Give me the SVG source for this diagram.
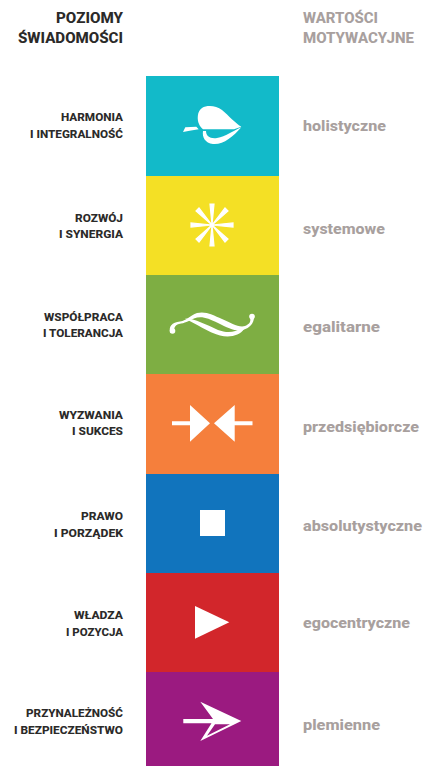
<svg xmlns="http://www.w3.org/2000/svg" width="425" height="766" viewBox="0 0 425 766">
<style>
text{font-family:"Roboto","Liberation Sans",sans-serif;font-weight:800}
.h{font-size:15.5px}
.hl{fill:#2b2a29;text-anchor:end}
.hr{fill:#a8a09e}
.l{font-size:11.5px;fill:#2b2a29;text-anchor:end}
.r{font-size:15px;fill:#a8a09e}
.i{fill:#fff}
</style>
<rect width="425" height="766" fill="#fff"/>
<g id="headers">
<text class="h hl" x="123" y="23" textLength="67" lengthAdjust="spacingAndGlyphs">POZIOMY</text>
<text class="h hl" x="123" y="43" textLength="105" lengthAdjust="spacingAndGlyphs">ŚWIADOMOŚCI</text>
<text class="h hr" x="303" y="23" textLength="75" lengthAdjust="spacingAndGlyphs">WARTOŚCI</text>
<text class="h hr" x="303" y="43" textLength="111" lengthAdjust="spacingAndGlyphs">MOTYWACYJNE</text>
</g>
<g id="level-1">
<rect x="146" y="76" width="133" height="100" fill="#12bac9"/>
<path class="i" d="M241.300 126.700C235 123 229 116 222 110C216 105.500 207 105 202 108C197 111 197 120 199 124C200 126.500 201.500 128 203 129.300L234 129.300Z"/>
<path class="i" d="M203 131C202 137 205 143 213 144C223 145 233 137 241.300 127.300C232 131.500 226 136.500 217 138C210 139 206 136 206 131Z"/>
<path class="i" d="M183 132L185.300 127.300L196.300 126.700L198.700 129.300L191 130.500Z"/>
<text class="l" x="123" y="121" textLength="62" lengthAdjust="spacingAndGlyphs">HARMONIA</text>
<text class="l" x="123" y="138" textLength="93" lengthAdjust="spacingAndGlyphs">I INTEGRALNOŚĆ</text>
<text class="r" x="303" y="131" textLength="83" lengthAdjust="spacingAndGlyphs">holistyczne</text>
</g>
<g id="level-2">
<rect x="146" y="176" width="133" height="99" fill="#f4e025"/>
<path class="i" stroke="#fff" stroke-width="1.200" d="M212 225L210 204H214ZM212 225L210 246H214ZM212 225L191 223V227ZM212 225L233 223V227ZM212 225L196 211L199 208ZM212 225L228 211L225 208ZM212 225L196 239L199 242ZM212 225L228 239L225 242Z"/>
<text class="l" x="123" y="222" textLength="48" lengthAdjust="spacingAndGlyphs">ROZWÓJ</text>
<text class="l" x="123" y="238" textLength="64" lengthAdjust="spacingAndGlyphs">I SYNERGIA</text>
<text class="r" x="303" y="234" textLength="82" lengthAdjust="spacingAndGlyphs">systemowe</text>
</g>
<g id="level-3">
<rect x="146" y="275" width="133" height="99" fill="#7eae43"/>
<path class="i" d="M170.500 333C168 327 172 322 180 321.500C187 320.500 190 315.500 197 313C206 311 213 315 222 319C231 323 239 328 245 326C250 324 251 321 250 318L254 317C254 323 250 328 243 330C236 332 228 328 218 323C208 318 201 315.500 194 318.500C188 321.500 185 323 179 324C174.500 325 173.500 329 175 331Z"/>
<path class="i" d="M185 318.500C195 318.500 207 325 218 330C226 333 235 333 241 328L244 329C240 335.500 230 338 220 335.500C208 332 196 324 185 318.500Z"/>
<circle class="i" cx="172.500" cy="331" r="2.800"/>
<circle class="i" cx="252" cy="316.500" r="2.800"/>
<text class="l" x="123" y="321" textLength="79" lengthAdjust="spacingAndGlyphs">WSPÓŁPRACA</text>
<text class="l" x="123" y="337" textLength="80" lengthAdjust="spacingAndGlyphs">I TOLERANCJA</text>
<text class="r" x="303" y="332" textLength="77" lengthAdjust="spacingAndGlyphs">egalitarne</text>
</g>
<g id="level-4">
<rect x="146" y="374" width="133" height="100" fill="#f57f3c"/>
<path class="i" d="M190 405L210 423.300L190 441.700V425.300H172V421.300H190Z"/>
<path class="i" d="M234.700 405L214 423.300L234.700 441.700V425.300H252.500V421.300H234.700Z"/>
<text class="l" x="123" y="419" textLength="64" lengthAdjust="spacingAndGlyphs">WYZWANIA</text>
<text class="l" x="123" y="435" textLength="51" lengthAdjust="spacingAndGlyphs">I SUKCES</text>
<text class="r" x="303" y="432" textLength="116" lengthAdjust="spacingAndGlyphs">przedsiębiorcze</text>
</g>
<g id="level-5">
<rect x="146" y="474" width="133" height="99" fill="#1174bd"/>
<rect class="i" x="200" y="510" width="25" height="26"/>
<text class="l" x="123" y="520" textLength="42" lengthAdjust="spacingAndGlyphs">PRAWO</text>
<text class="l" x="123" y="537" textLength="69" lengthAdjust="spacingAndGlyphs">I PORZĄDEK</text>
<text class="r" x="303" y="531" textLength="119" lengthAdjust="spacingAndGlyphs">absolutystyczne</text>
</g>
<g id="level-6">
<rect x="146" y="573" width="133" height="99" fill="#d2262b"/>
<path class="i" d="M195 606L229.300 622.300L195 638.700Z"/>
<text class="l" x="123" y="619" textLength="49" lengthAdjust="spacingAndGlyphs">WŁADZA</text>
<text class="l" x="123" y="636" textLength="57" lengthAdjust="spacingAndGlyphs">I POZYCJA</text>
<text class="r" x="303" y="628" textLength="107" lengthAdjust="spacingAndGlyphs">egocentryczne</text>
</g>
<g id="level-7">
<rect x="146" y="672" width="133" height="94" fill="#9b1a80"/>
<path class="i" fill-rule="evenodd" d="M200.300 701.700L241.300 721L200.300 741L211.500 723.300H183.300V719H213ZM215 724.300L230 724.300L207 735.700Z"/>
<text class="l" x="123" y="717" textLength="97" lengthAdjust="spacingAndGlyphs">PRZYNALEŻNOŚĆ</text>
<text class="l" x="123" y="734" textLength="109" lengthAdjust="spacingAndGlyphs">I BEZPIECZEŃSTWO</text>
<text class="r" x="303" y="730" textLength="77" lengthAdjust="spacingAndGlyphs">plemienne</text>
</g>
</svg>
